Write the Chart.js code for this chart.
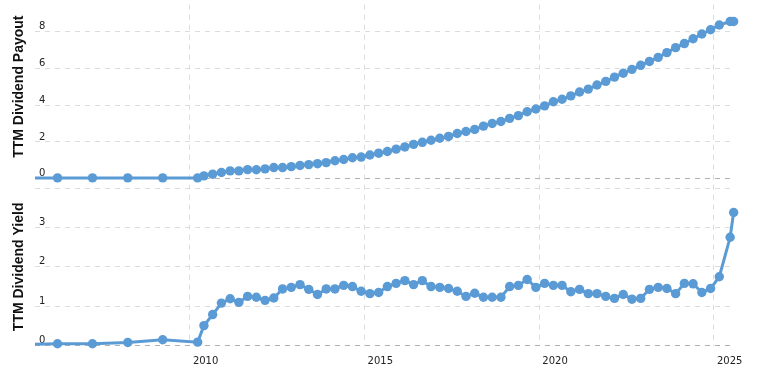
<!DOCTYPE html>
<html>
<head>
<meta charset="utf-8">
<script src="https://cdn.jsdelivr.net/npm/chart.js@4/dist/chart.umd.min.js"></script>
<style>
  html, body { margin: 0; padding: 0; background: #fff; }
  #wrap { width: 763px; height: 370px; }
</style>
</head>
<body>
<div id="wrap"><canvas id="myChart" width="763" height="370"></canvas></div>
<script>
// decimal years of each observation (annual until 2010, then quarterly)
var dates = [2005.22, 2006.22, 2007.22, 2008.23, 2009.23, 2010.23,
  2010.41, 2010.66, 2010.91, 2011.16, 2011.41, 2011.66, 2011.91, 2012.16,
  2012.41, 2012.66, 2012.91, 2013.16, 2013.41, 2013.66, 2013.91, 2014.16,
  2014.41, 2014.66, 2014.91, 2015.16, 2015.41, 2015.66, 2015.91, 2016.16,
  2016.41, 2016.66, 2016.91, 2017.16, 2017.41, 2017.66, 2017.91, 2018.16,
  2018.41, 2018.66, 2018.91, 2019.16, 2019.41, 2019.66, 2019.91, 2020.16,
  2020.41, 2020.66, 2020.91, 2021.16, 2021.41, 2021.66, 2021.91, 2022.16,
  2022.41, 2022.66, 2022.91, 2023.16, 2023.41, 2023.66, 2023.91, 2024.16,
  2024.41, 2024.66, 2024.91, 2025.16, 2025.47, 2025.57];

var payout = [0.05, 0.05, 0.05, 0.05, 0.05, 0.05,
  0.16, 0.25, 0.34, 0.43, 0.43, 0.50, 0.49, 0.54, 0.61, 0.61,
  0.66, 0.72, 0.77, 0.82, 0.88, 0.98, 1.05, 1.14, 1.18, 1.29,
  1.39, 1.48, 1.61, 1.73, 1.87, 1.98, 2.09, 2.20, 2.30, 2.46,
  2.57, 2.68, 2.86, 3.00, 3.11, 3.28, 3.43, 3.64, 3.79, 3.96,
  4.18, 4.32, 4.50, 4.71, 4.87, 5.09, 5.29, 5.52, 5.73, 5.94,
  6.16, 6.37, 6.59, 6.85, 7.12, 7.34, 7.60, 7.86, 8.09, 8.35,
  8.54, 8.54];

var yieldPct = [0.03, 0.05, 0.05, 0.08, 0.15, 0.09,
  0.51, 0.79, 1.08, 1.19, 1.10, 1.25, 1.23, 1.15, 1.21, 1.44,
  1.48, 1.55, 1.43, 1.30, 1.44, 1.44, 1.53, 1.50, 1.38, 1.32,
  1.35, 1.50, 1.58, 1.65, 1.55, 1.65, 1.50, 1.48, 1.45, 1.38,
  1.25, 1.33, 1.23, 1.23, 1.23, 1.50, 1.53, 1.68, 1.48, 1.58,
  1.53, 1.53, 1.37, 1.43, 1.32, 1.32, 1.25, 1.20, 1.30, 1.18,
  1.20, 1.43, 1.48, 1.45, 1.32, 1.58, 1.57, 1.35, 1.45, 1.75,
  2.75, 3.38];

var yearTicks = [2010, 2015, 2020, 2025];
var xRange = [2005.575, 2025.466];

var blue = '#5b9bd5';
var tickFont = {family: 'DejaVu Sans', size: 10};
var titleFont = {family: 'Liberation Sans', size: 14, weight: 'bold'};

function points(values) {
  return values.map(function(v, i) { return {x: dates[i], y: v}; });
}

function gridColor(ctx) {
  return ctx.tick && ctx.tick.value === 0 ? '#b0b0b0' : '#dcdcdc';
}

function fixLeft(scale) {
  scale.width = 35;
  scale.paddingTop = 0;
  scale.paddingBottom = 0;
}

function displayChart() {
  var myChart = document.getElementById('myChart');
  var line = {
    borderColor: blue,
    backgroundColor: blue,
    borderWidth: 3,
    pointRadius: 4.7,
    pointBorderWidth: 0,
    pointBackgroundColor: blue,
    tension: 0,
    clip: {left: 0, top: 10, right: 10, bottom: 10}
  };
  new Chart(myChart, {
    type: 'line',
    data: {
      datasets: [
        Object.assign({label: 'TTM Dividend Yield', data: points(yieldPct), yAxisID: 'y'}, line),
        Object.assign({label: 'TTM Dividend Payout', data: points(payout), yAxisID: 'y2'}, line)
      ]
    },
    options: {
      responsive: false,
      animation: false,
      layout: {padding: {top: 0, left: 0, right: 33, bottom: 0}},
      plugins: {legend: {display: false}, tooltip: {enabled: false}},
      scales: {
        x: {
          type: 'linear',
          position: 'bottom',
          bounds: 'data',
          border: {display: false, dash: [5, 5]},
          grid: {color: '#dcdcdc', drawTicks: false},
          ticks: {
            labelOffset: 16,
            padding: 10,
            color: '#222',
            font: tickFont,
            callback: function(v) { return String(v); }
          },
          // the range is set here rather than as min/max so the last points past the edge still draw
          afterDataLimits: function(scale) {
            scale.min = xRange[0];
            scale.max = xRange[1];
          },
          afterBuildTicks: function(scale) {
            scale.ticks = yearTicks.map(function(v) { return {value: v}; });
          },
          afterFit: function(scale) {
            scale.height = 24.3;
            scale.paddingLeft = 0;
            scale.paddingRight = 0;
          }
        },
        y: {
          type: 'linear',
          position: 'left',
          stack: 'panels',
          stackWeight: 160,
          min: 0,
          max: 4,
          border: {display: false, dash: [5, 5]},
          grid: {color: gridColor, drawTicks: false},
          ticks: {
            stepSize: 1,
            mirror: true,
            padding: 4,
            labelOffset: -5,
            color: '#222',
            font: tickFont,
            callback: function(v) { return v === 4 ? '' : String(v); }
          },
          title: {display: true, text: 'TTM Dividend Yield', color: '#111', font: titleFont, padding: {top: 11, bottom: 0}},
          afterFit: fixLeft
        },
        y2: {
          type: 'linear',
          position: 'left',
          stack: 'panels',
          stackWeight: 186,
          min: -0.5,
          max: 9.45,
          border: {display: false, dash: [5, 5]},
          grid: {color: gridColor, drawTicks: false},
          ticks: {
            stepSize: 2,
            includeBounds: false,
            mirror: true,
            padding: 4,
            labelOffset: -5,
            color: '#222',
            font: tickFont,
            callback: function(v) { return String(v); }
          },
          title: {display: true, text: '     TTM Dividend Payout', color: '#111', font: titleFont, padding: {top: 11, bottom: 0}},
          afterFit: fixLeft
        }
      }
    }
  });
}

document.addEventListener('DOMContentLoaded', displayChart);
</script>
</body>
</html>
